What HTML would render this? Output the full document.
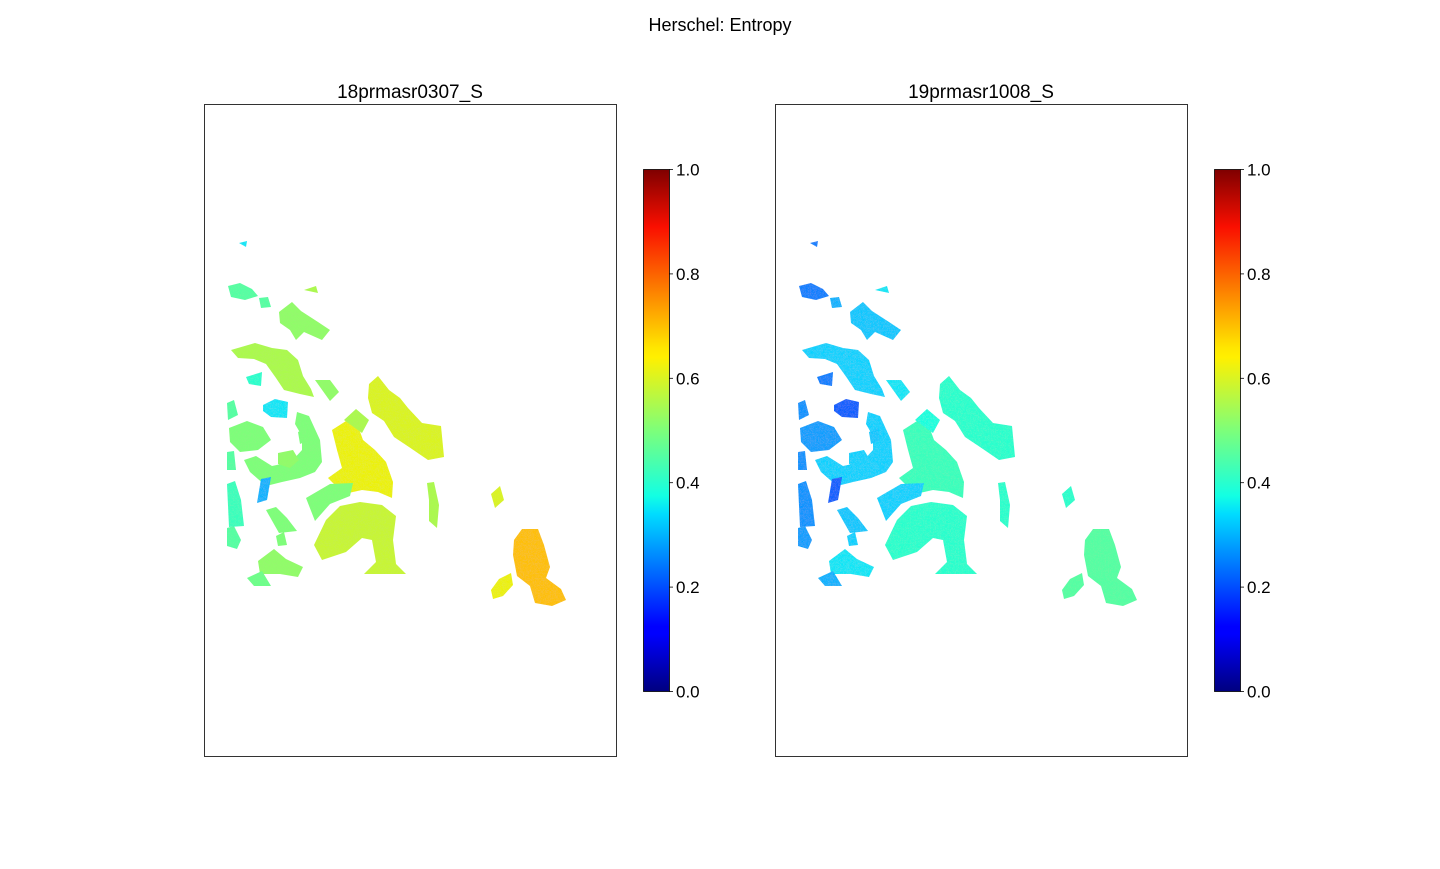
<!DOCTYPE html>
<html><head><meta charset="utf-8">
<style>
body{margin:0;background:#fff;font-family:"Liberation Sans","DejaVu Sans",sans-serif;}
svg text{font-family:"Liberation Sans","DejaVu Sans",sans-serif;}
</style></head>
<body>
<svg id="fig" width="1440" height="864" viewBox="0 0 1440 864" xmlns="http://www.w3.org/2000/svg">
<defs>
<linearGradient id="jet" x1="0" y1="1" x2="0" y2="0">
<stop offset="0" stop-color="#00007f"/><stop offset="0.11" stop-color="#0000ff"/><stop offset="0.125" stop-color="#0000ff"/>
<stop offset="0.34" stop-color="#00dcff"/><stop offset="0.375" stop-color="#13ffe3"/><stop offset="0.5" stop-color="#7dff7a"/>
<stop offset="0.64" stop-color="#fff000"/><stop offset="0.66" stop-color="#ffe500"/><stop offset="0.89" stop-color="#fa0f00"/><stop offset="1" stop-color="#7f0000"/>
</linearGradient>
<filter id="noise" x="0" y="0" width="1" height="1"><feTurbulence baseFrequency="0.6" numOctaves="1" seed="3" result="t"/><feColorMatrix in="t" type="matrix" values="0 0 0 0 0.5 0 0 0 0 0.5 0 0 0 0 0.3 0 0 0 0.25 0" result="n"/><feComposite in="n" in2="SourceGraphic" operator="in" result="m"/><feMerge><feMergeNode in="SourceGraphic"/><feMergeNode in="m"/></feMerge></filter>
</defs>
<text x="720" y="31" text-anchor="middle" font-size="18">Herschel: Entropy</text>
</svg>
<script>
const panelTitles = ["18prmasr0307_S", "19prmasr1008_S"];
const tickValues = [0.0, 0.2, 0.4, 0.6, 0.8, 1.0];
const tickLabels = ["0.0", "0.2", "0.4", "0.6", "0.8", "1.0"];
// region shapes in left-panel pixel frame (image coordinates)
const blobShapes = [
 [[228,286],[240,283],[252,289],[258,296],[245,300],[231,297]],
 [[259,298],[268,297],[271,307],[261,308]],
 [[279,312],[292,302],[301,311],[318,322],[330,330],[322,340],[304,332],[296,340],[290,330],[280,323]],
 [[231,350],[255,343],[272,348],[287,350],[298,360],[303,376],[311,389],[314,397],[300,394],[284,390],[276,378],[266,364],[254,359],[238,358]],
 [[246,377],[262,372],[261,386],[249,384]],
 [[263,405],[275,399],[288,402],[287,418],[271,417],[263,411]],
 [[229,428],[247,421],[263,427],[271,440],[258,450],[240,452],[230,442]],
 [[297,412],[309,416],[320,440],[322,462],[315,472],[300,478],[282,482],[266,486],[250,472],[244,460],[256,456],[272,466],[291,462],[302,450],[302,436],[295,424]],
 [[278,453],[293,450],[299,460],[290,468],[278,464]],
 [[332,430],[346,421],[358,426],[363,440],[375,450],[386,462],[393,482],[392,498],[378,492],[362,490],[344,494],[328,478],[342,468],[337,450]],
 [[369,384],[378,376],[389,390],[400,398],[408,408],[422,423],[441,426],[444,457],[428,460],[409,447],[394,437],[384,421],[372,413],[368,398]],
 [[344,420],[356,409],[369,420],[362,433]],
 [[315,380],[330,380],[339,392],[330,401]],
 [[306,498],[330,484],[353,483],[350,496],[330,504],[315,521]],
 [[314,545],[326,520],[340,506],[360,502],[382,505],[396,516],[393,540],[396,564],[406,574],[364,574],[376,562],[372,540],[362,538],[346,552],[322,560]],
 [[427,483],[434,482],[439,505],[437,528],[429,521],[429,500]],
 [[491,494],[500,486],[504,500],[495,508]],
 [[514,540],[522,529],[538,529],[544,545],[550,567],[546,578],[561,589],[566,600],[552,606],[535,603],[530,586],[517,576],[513,555]],
 [[491,590],[499,579],[511,573],[513,585],[503,596],[493,599]],
 [[227,528],[234,526],[241,540],[237,549],[227,546]],
 [[258,561],[274,549],[286,559],[303,567],[298,577],[280,574],[260,574]],
 [[247,578],[262,571],[271,586],[254,586]],
 [[227,484],[235,481],[241,500],[244,526],[229,527]],
 [[261,479],[271,477],[267,500],[257,503]],
 [[266,510],[276,507],[287,518],[297,531],[279,533]],
 [[239,243],[247,241],[246,247]],
 [[304,290],[316,286],[318,293]],
 [[227,403],[234,400],[238,415],[228,420]],
 [[227,452],[234,451],[236,470],[227,470]],
 [[276,536],[284,532],[287,545],[278,546]],
 [[298,432],[307,428],[309,440],[300,444]]
];
// entropy value of each region per panel
const leftValues  = [0.45,0.45,0.52,0.55,0.4,0.35,0.5,0.5,0.52,0.62,0.6,0.55,0.52,0.5,0.58,0.55,0.6,0.7,0.62,0.45,0.52,0.48,0.42,0.3,0.5,0.35,0.55,0.45,0.45,0.5,0.5];
const rightValues = [0.25,0.3,0.32,0.33,0.25,0.22,0.28,0.33,0.33,0.42,0.4,0.38,0.35,0.33,0.4,0.4,0.4,0.45,0.45,0.28,0.35,0.3,0.27,0.22,0.32,0.25,0.35,0.27,0.27,0.33,0.32];
const panelValues = [leftValues, rightValues];

const svg = document.getElementById('fig');
const NS = 'http://www.w3.org/2000/svg';
function mk(tag, attrs){const e=document.createElementNS(NS,tag);for(const k in attrs)e.setAttribute(k,attrs[k]);return e;}
const stops=[[0,[0,0,127]],[0.11,[0,0,255]],[0.125,[0,0,255]],[0.34,[0,220,255]],[0.375,[19,255,227]],[0.5,[125,255,122]],[0.64,[255,240,0]],[0.66,[255,229,0]],[0.89,[250,15,0]],[1,[127,0,0]]];
function jet(v){for(let i=1;i<stops.length;i++){if(v<=stops[i][0]){const a=stops[i-1],b=stops[i],t=(v-a[0])/(b[0]-a[0]);return 'rgb('+a[1].map((c,j)=>Math.round(c+(b[1][j]-c)*t)).join(',')+')';}}return 'rgb(127,0,0)';}
const axLeft=[204,775], axTop=104, axW=412, axH=652;
const cbLeft=[643,1214], cbTop=169, cbH=522, cbW=26;
function cbY(v){return cbTop+cbH*(1-v);}

for(let p=0;p<2;p++){
  const dx=axLeft[p]-axLeft[0];
  const g=mk('g',{});
  
  
  svg.appendChild(g);
  const img=mk('g',{filter:'url(#noise)'});
  
  
  g.appendChild(img);
  blobShapes.forEach((pts,i)=>{
    const poly=mk('polygon',{points:pts.map(q=>(q[0]+dx)+','+q[1]).join(' '),fill:jet(panelValues[p][i])});
    
    
    img.appendChild(poly);
  });
  const fr=mk('rect',{x:axLeft[p]+0.5,y:axTop+0.5,width:axW,height:axH,fill:'none',stroke:'#000','stroke-width':0.8});
  
  
  g.appendChild(fr);
  const t=mk('text',{x:axLeft[p]+axW/2,y:98,'text-anchor':'middle','font-size':19});
  t.textContent=panelTitles[p];
  
  
  g.appendChild(t);
  const cb=mk('rect',{x:cbLeft[p]+0.5,y:cbTop+0.5,width:cbW,height:cbH,fill:'url(#jet)',stroke:'#000','stroke-width':0.8});
  
  
  g.appendChild(cb);
  tickValues.forEach((v,i)=>{
    const y=cbY(v)+0.5;
    const l=mk('line',{x1:cbLeft[p]+cbW,x2:cbLeft[p]+cbW+4,y1:y,y2:y,stroke:'#000','stroke-width':0.8});
    
    
    g.appendChild(l);
    const tx=mk('text',{x:cbLeft[p]+cbW+7,y:y+6,'font-size':17});
    tx.textContent=tickLabels[i];
    
    
    g.appendChild(tx);
  });
}
</script>
</body></html>
